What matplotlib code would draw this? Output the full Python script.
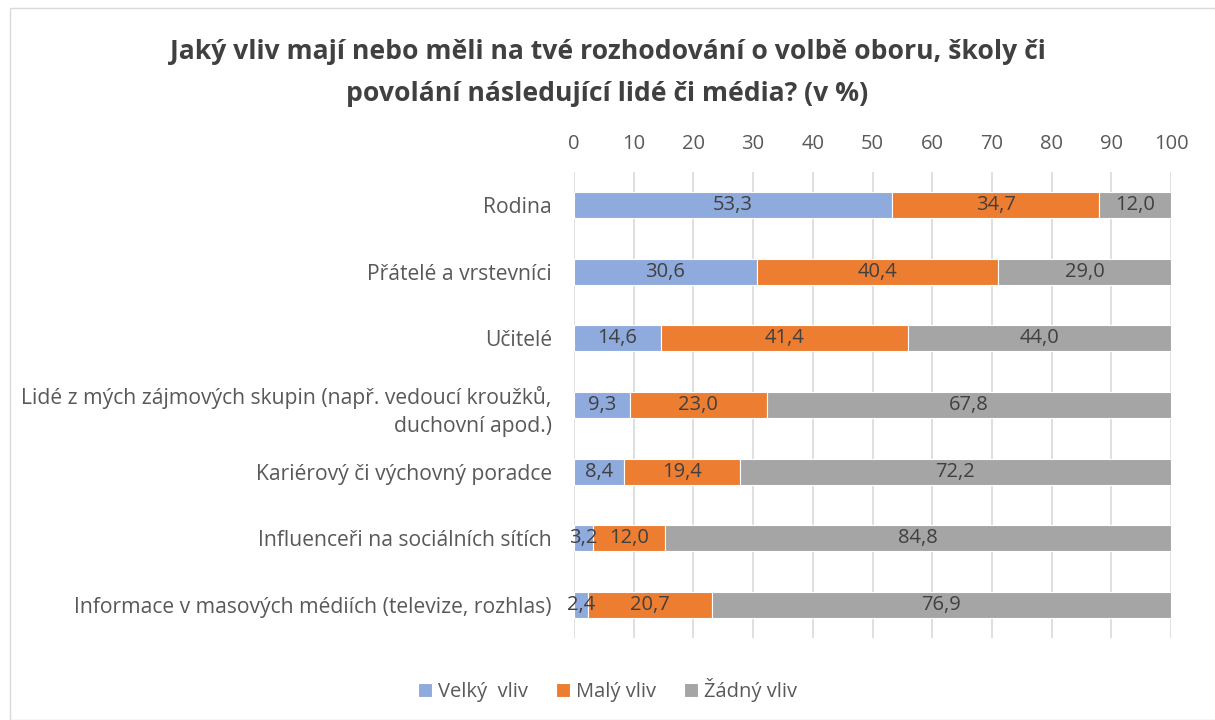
import matplotlib.pyplot as plt
from matplotlib.patches import Rectangle

categories = [
    "Rodina",
    "Přátelé a vrstevníci",
    "Učitelé",
    "Lidé z mých zájmových skupin (např. vedoucí kroužků,\nduchovní apod.)",
    "Kariérový či výchovný poradce",
    "Influenceři na sociálních sítích",
    "Informace v masových médiích (televize, rozhlas)",
]
velky = [53.3, 30.6, 14.6, 9.3, 8.4, 3.2, 2.4]
maly = [34.7, 40.4, 41.4, 23.0, 19.4, 12.0, 20.7]
zadny = [12.0, 29.0, 44.0, 67.8, 72.2, 84.8, 76.9]
series_names = ["Velký  vliv", "Malý vliv", "Žádný vliv"]
colors = ["#8FAADC", "#ED7D31", "#A5A5A5"]

plt.rcParams["font.family"] = ["Open Sans", "DejaVu Sans"]

fig = plt.figure(figsize=(12.15, 7.2), dpi=100)
ax = fig.add_axes([574 / 1215, 1 - 638 / 720, (1171 - 574) / 1215, (638 - 172) / 720])

y = list(range(len(categories)))
left = [0.0] * len(categories)
for name, vals, col in zip(series_names, [velky, maly, zadny], colors):
    bars = ax.barh(y, vals, left=left, height=0.39, color=col, label=name,
                   edgecolor="white", linewidth=0.8, zorder=3)
    for b, v in zip(bars, vals):
        ax.text(b.get_x() + b.get_width() / 2, b.get_y() + b.get_height() / 2,
                f"{v:.1f}".replace(".", ","), ha="center", va="center",
                fontsize=14.5, color="#404040", zorder=4)
    left = [l + v for l, v in zip(left, vals)]

ax.set_xlim(0, 100)
ax.set_ylim(len(categories) - 0.5, -0.5)
ax.set_xticks(range(0, 101, 10))
ax.xaxis.tick_top()
ax.set_yticks(y)
ax.set_yticklabels(categories, fontsize=15.2, color="#595959", linespacing=1.45)
ax.tick_params(axis="x", labelsize=14.5, colors="#595959", length=0, pad=13)
ax.tick_params(axis="y", length=0, pad=16)
ax.grid(axis="x", color="#D9D9D9", linewidth=1.2, zorder=0)
for s in ax.spines.values():
    s.set_visible(False)

fig.suptitle("Jaký vliv mají nebo měli na tvé rozhodování o volbě oboru, školy či\n"
             "povolání následující lidé či média? (v %)",
             x=0.5, y=1 - 39 / 720, va="top", fontsize=19.1, fontweight="bold",
             color="#404040", linespacing=1.8)

fig.legend(loc="center", bbox_to_anchor=(0.5, 1 - 690 / 720), ncol=3, frameon=False,
           fontsize=14.5, labelcolor="#595959", handlelength=0.7, handleheight=0.7,
           handletextpad=0.3, columnspacing=1.4)

fig.patches.append(Rectangle((10 / 1215, 0), 1, 1 - 8 / 720, transform=fig.transFigure,
                             fill=False, edgecolor="#D9D9D9", linewidth=1))

fig.savefig("out.png", dpi=100)
